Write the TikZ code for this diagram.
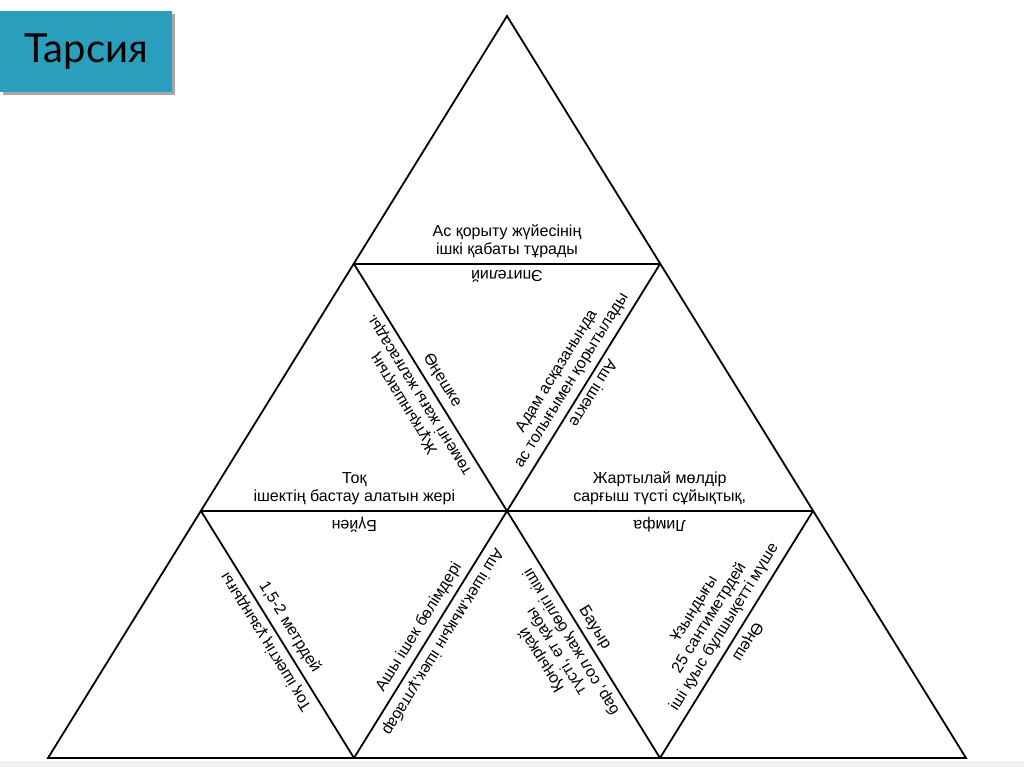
\documentclass[tikz,border=0pt]{standalone}
\usepackage{fontspec}
\setmainfont{Liberation Sans}
\newfontfamily\titlefont{Lato}
\usetikzlibrary{shadows}
\definecolor{titleteal}{RGB}{43,158,190}
\begin{document}
\begin{tikzpicture}[x=1pt,y=-1pt,
  edge/.style={line width=1.8pt, line join=miter},
  lbl/.style={anchor=south, inner sep=0pt, align=center, font=\fontsize{16}{17.5}\selectfont},
  titlebox/.style={fill=titleteal, anchor=north west, minimum width=172pt, minimum height=81pt, inner sep=0pt,
    drop shadow={shadow xshift=3pt, shadow yshift=-3pt, fill=black, opacity=0.35},
    font=\titlefont\fontsize{40}{40}\selectfont}
]
\useasboundingbox (0,0) rectangle (1024,767);
\fill[white] (0,0) rectangle (1024,767);
\fill[black!6] (0,761) rectangle (1024,767);

% title
\node[titlebox] (title) at (0,11) {Тарсия};

% triangle points
\coordinate (A) at (507,16);
\coordinate (L) at (48,758);
\coordinate (R) at (966,758);
\coordinate (P1) at (354,264);
\coordinate (Q1) at (660,264);
\coordinate (P2) at (201,511);
\coordinate (Q2) at (813,511);
\coordinate (M) at (507,511);
\coordinate (B1) at (354,758);
\coordinate (B2) at (660,758);

\draw[edge] (A) -- (L) -- (R) -- cycle;
\draw[edge] (P1) -- (Q1);
\draw[edge] (P2) -- (Q2);
\draw[edge] (P1) -- (B2);
\draw[edge] (Q1) -- (B1);
\draw[edge] (P2) -- (B1);
\draw[edge] (Q2) -- (B2);

% top horizontal edge
\node[lbl] (t1a) at (507,258) {Ас қорыту жүйесінің\\ішкі қабаты тұрады};
\node[lbl, rotate=180] (t1b) at (507,270) {Эпителий};

% middle horizontal edge
\node[lbl] (t2a) at (354.3,505) {Тоқ\\ішектің бастау алатын жері};
\node[lbl, rotate=180] (t2b) at (354.3,517) {Бүйен};
\node[lbl] (t3a) at (659.7,505) {Жартылай мөлдір\\сарғыш түсті сұйықтық,};
\node[lbl, rotate=180] (t3b) at (659.7,517) {Лимфа};

% edge P1-M
\node[lbl, rotate=121.7] (t4a) at (425.6,390.7) {Жұтқыншақтың\\төменгі жағы жалғасады.};
\node[lbl, rotate=-58.3] (t4b) at (435.8,384.3) {Өңешке};

% edge Q1-M
\node[lbl, rotate=58.3] (t5a) at (578.2,384.3) {Адам асқазанында\\ас толығымен қорытылады};
\node[lbl, rotate=-121.7] (t5b) at (588.4,390.7) {Аш ішекте};

% edge P2-B1
\node[lbl, rotate=121.7] (t6a) at (272.9,637.7) {Тоқ ішектің ұзындығы};
\node[lbl, rotate=-58.3] (t6b) at (283.1,631.3) {1,5-2 метрдей};

% edge M-B1
\node[lbl, rotate=58.3] (t7a) at (425.6,631.3) {Ашы ішек бөлімдері};
\node[lbl, rotate=-121.7] (t7b) at (435.8,637.7) {Аш ішек,мықын ішек,ұлтабар};

% edge M-B2
\node[lbl, rotate=121.7] (t8a) at (578.2,637.7) {Қоңырқай\\түсті, ет қабы\\бар, сол жақ бөлігі кіші};
\node[lbl, rotate=-58.3] (t8b) at (588.4,631.3) {Бауыр};

% edge Q2-B2
\node[lbl, rotate=58.3] (t9a) at (730.9,631.3) {Ұзындығы\\25 сантиметрдей\\іші қуыс бұлшықетті мүше};
\node[lbl, rotate=-121.7] (t9b) at (741.1,637.7) {Өңеш};
\end{tikzpicture}
\end{document}
